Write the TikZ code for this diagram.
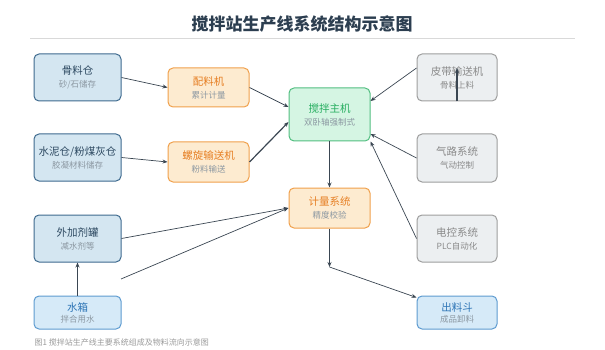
\documentclass[tikz,border=0pt]{standalone}
\usepackage{fontspec}
\setmainfont{Noto Sans CJK SC}
\usetikzlibrary{arrows.meta}
\definecolor{bfill}{HTML}{D4E6F1}
\definecolor{bdraw}{HTML}{3E6A8E}
\definecolor{btext}{HTML}{2E4A62}
\definecolor{lbfill}{HTML}{D6EAF8}
\definecolor{lbdraw}{HTML}{5D9BD0}
\definecolor{lbtext}{HTML}{2E75B6}
\definecolor{ofill}{HTML}{FDEBD0}
\definecolor{odraw}{HTML}{F0A04B}
\definecolor{otext}{HTML}{E67E22}
\definecolor{gfill}{HTML}{D5F5E3}
\definecolor{gdraw}{HTML}{52BE80}
\definecolor{gtext}{HTML}{27AE60}
\definecolor{yfill}{HTML}{ECEFF1}
\definecolor{ydraw}{HTML}{9E9E9E}
\definecolor{ytext}{HTML}{8A8A8A}
\definecolor{subc}{HTML}{8C98A2}
\definecolor{arr}{HTML}{3A4652}
\definecolor{ttl}{HTML}{2C3E50}
\tikzset{
  boxbase/.style={rectangle, rounded corners=5pt, line width=1pt, align=center,
    minimum width=80pt, inner sep=1pt},
  bluebox/.style={boxbase, fill=bfill, draw=bdraw},
  lbluebox/.style={boxbase, fill=lbfill, draw=lbdraw},
  orangebox/.style={boxbase, fill=ofill, draw=odraw},
  greenbox/.style={boxbase, fill=gfill, draw=gdraw},
  graybox/.style={boxbase, fill=yfill, draw=ydraw},
  conn/.style={draw=arr, line width=0.7pt, -{Stealth[length=5pt,width=4pt]}},
  connthick/.style={draw=arr, line width=1.2pt, -{Stealth[length=5pt,width=4pt]}},
}
\newcommand{\bt}[2]{{\fontsize{10.5}{13}\selectfont\color{#1}#2}}
\newcommand{\bs}[1]{{\fontsize{8.5}{11}\selectfont\color{subc}#1}}
\begin{document}
\begin{tikzpicture}[x=1pt,y=-1pt]
\useasboundingbox (0,0) rectangle (605,350);
% title
\node[font=\fontsize{17}{20}\selectfont\bfseries, text=ttl] (title) at (302,24) {搅拌站生产线系统结构示意图};
\draw[draw=black!15, line width=0.8pt] (30,38) -- (575,38);
% left column
\node[bluebox, minimum width=87pt, minimum height=47pt] (gl) at (77.5,77.5) {\bt{btext}{骨料仓}\\[1pt]\bs{砂/石储存}};
\node[bluebox, minimum width=87pt, minimum height=47pt] (sn) at (77.5,157.5) {\bt{btext}{水泥仓/粉煤灰仓}\\[1pt]\bs{胶凝材料储存}};
\node[bluebox, minimum width=87pt, minimum height=47pt] (wj) at (77.5,238.5) {\bt{btext}{外加剂罐}\\[1pt]\bs{减水剂等}};
\node[lbluebox, minimum width=87pt, minimum height=33pt] (sx) at (77.5,312.5) {\bt{lbtext}{水箱}\\[-1pt]\bs{拌合用水}};
% second column
\node[orangebox, minimum width=81pt, minimum height=39pt] (pl) at (208.5,87.5) {\bt{otext}{配料机}\\[1pt]\bs{累计计量}};
\node[orangebox, minimum width=81pt, minimum height=40pt] (lx) at (208.5,162) {\bt{otext}{螺旋输送机}\\[1pt]\bs{粉料输送}};
% center
\node[greenbox, minimum width=81pt, minimum height=53pt] (mix) at (329.5,114.5) {\bt{gtext}{搅拌主机}\\[1pt]\bs{双卧轴强制式}};
\node[orangebox, minimum width=81pt, minimum height=40pt] (jl) at (329.5,208) {\bt{otext}{计量系统}\\[1pt]\bs{精度校验}};
% right column
\node[graybox, minimum width=80pt, minimum height=47pt] (pd) at (457,77.5) {\bt{ytext}{皮带输送机}\\[1pt]{\fontsize{8.5}{11}\selectfont\color{ytext}骨料上料}};
\node[graybox, minimum width=80pt, minimum height=48pt] (qi) at (457,158) {\bt{ytext}{气路系统}\\[1pt]{\fontsize{8.5}{11}\selectfont\color{ytext}气动控制}};
\node[graybox, minimum width=80pt, minimum height=47pt] (dk) at (457,238.5) {\bt{ytext}{电控系统}\\[1pt]{\fontsize{8.5}{11}\selectfont\color{ytext}PLC自动化}};
\node[lbluebox, minimum width=80pt, minimum height=33pt] (ck) at (457,312.5) {\bt{lbtext}{出料斗}\\[-1pt]\bs{成品卸料}};
% caption
\node[anchor=west, font=\fontsize{8}{10}\selectfont, text=black!40] (cap) at (31,342) {图1 搅拌站生产线主要系统组成及物料流向示意图};
% connectors
\draw[conn] (gl.east) -- (pl.west);
\draw[conn] (sn.east) -- (lx.west);
\draw[conn] (pl.east) -- ([yshift=7.5pt]mix.west);
\draw[connthick] (lx.east) -- ([yshift=-7.5pt]mix.west);
\draw[conn] ([yshift=9.5pt]pd.west) -- ([yshift=13.5pt]mix.east);
\draw[connthick] (pd.south) -- ([yshift=9.5pt]pd.center);
\draw[conn] (qi.west) -- ([yshift=-19.5pt]mix.east);
\draw[conn] (dk.west) -- (mix.south east);
\draw[connthick] (mix.south) -- (jl.north);
\coordinate (bend) at (329.5,267);
\draw[connthick] (jl.south) -- (bend);
\draw[conn] (bend) -- ([yshift=-2pt]ck.north west);
\draw[conn] (wj.east) -- (jl.west);
\coordinate (free) at (121,279);
\draw[conn] (free) -- (jl.west);
\draw[connthick] (sx.north) -- (wj.south);
\end{tikzpicture}
\end{document}
